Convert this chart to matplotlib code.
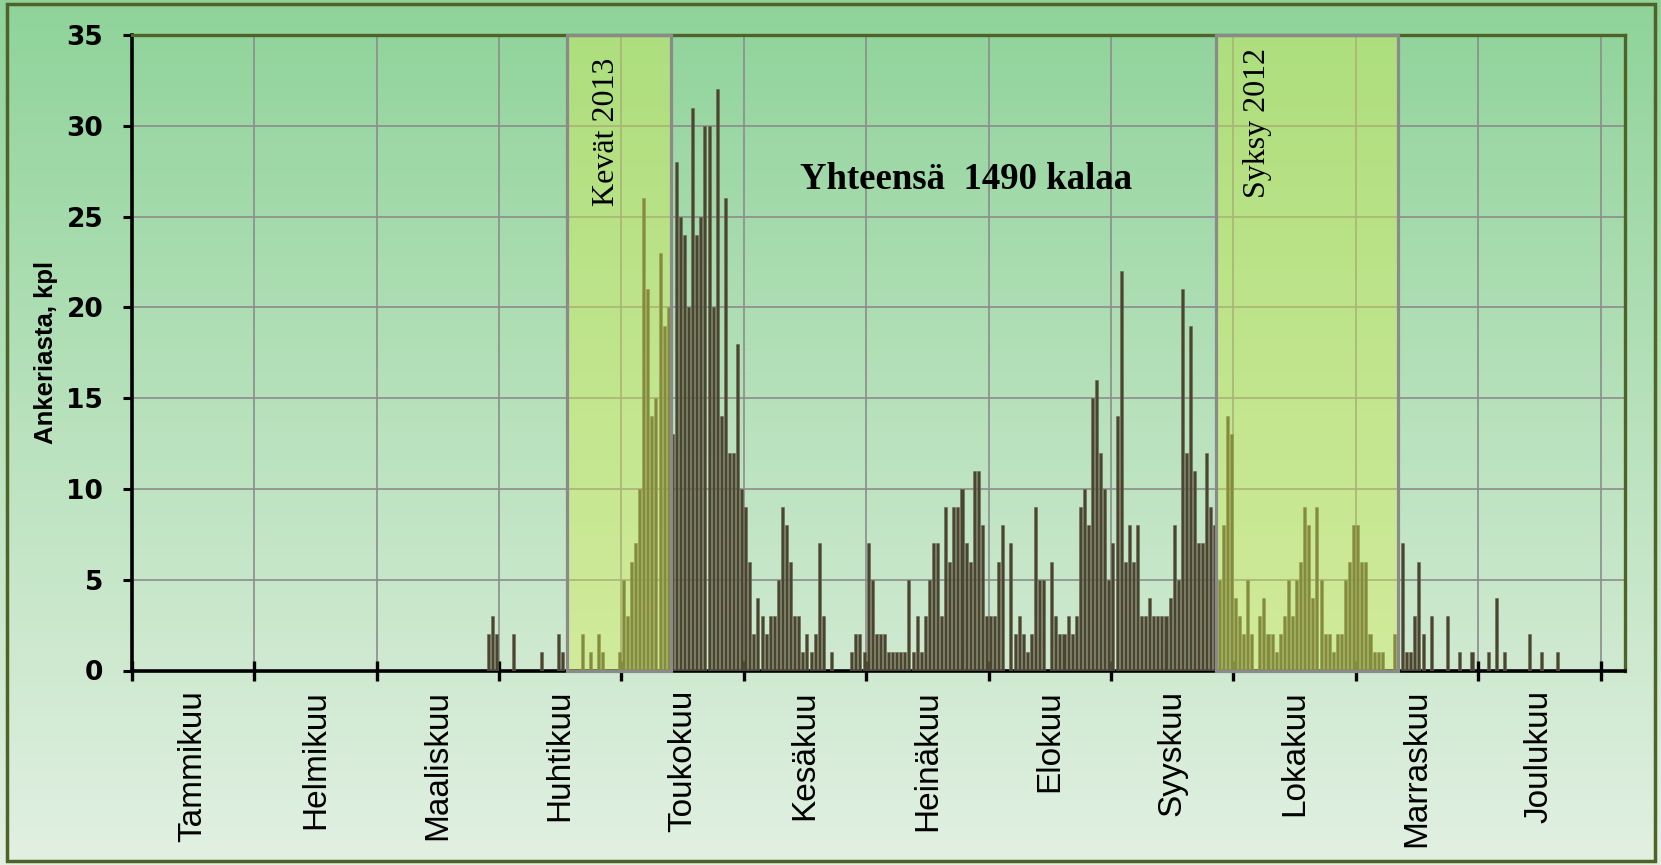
import numpy as np
import matplotlib
matplotlib.use('Agg')
import matplotlib.pyplot as plt
from matplotlib.patches import Rectangle
from matplotlib import font_manager
from matplotlib.colors import LinearSegmentedColormap

# ---------------- data ----------------
months = ['Tammikuu', 'Helmikuu', 'Maaliskuu', 'Huhtikuu', 'Toukokuu', 'Kesäkuu',
          'Heinäkuu', 'Elokuu', 'Syyskuu', 'Lokakuu', 'Marraskuu', 'Joulukuu']
n_days = 366
tick_step = 30
y_ticks = [0, 5, 10, 15, 20, 25, 30, 35]

early_days = [87, 88, 89, 93, 100, 104, 105, 110, 112, 114, 115, 119]
early_counts = [2, 3, 2, 2, 1, 2, 1, 2, 1, 2, 1, 1]

main_start = 120
counts_spring = [5, 3, 6, 7, 10, 26, 21, 14, 15, 23, 19, 20, 13, 28, 25, 24, 20, 31, 24, 25,
                 30, 30, 20, 32, 14, 26, 12, 12, 18, 10, 9, 6, 2, 4, 3]
counts_june = [2, 3, 3, 5, 9, 8, 6, 3, 3, 1, 2, 1, 2, 7, 3, 0, 1, 0, 0, 0, 0, 1, 2, 2, 1, 7, 5]
counts_july = [2, 2, 2, 1, 1, 1, 1, 1, 5, 1, 3, 1, 3, 5, 7, 7, 3, 9, 6, 9, 9, 10, 7, 6, 11, 11,
               8, 3, 3, 3, 6]
counts_aug = [8, 0, 7, 2, 3, 2, 1, 2, 9, 5, 5, 0, 6, 3, 2, 2, 3, 2, 3, 9, 10, 8, 15, 16, 12, 10,
              5, 7, 14, 22, 6, 8]
counts_sep = [6, 8, 3, 3, 4, 3, 3, 3, 3, 4, 8, 5, 21, 12, 19, 11, 7, 7, 12, 9, 8, 5]
counts_autumn = [8, 14, 13, 4, 3, 2, 5, 2, 0, 3, 4, 2, 2, 1, 2, 3, 5, 3, 5, 6, 9, 8, 4, 9, 5, 2,
                 2, 1, 2, 2, 5, 6, 8, 8, 6, 6, 2, 1, 1, 1, 0, 0, 2, 0]
counts_late = [7, 1, 1, 3, 6, 2, 0, 3, 0, 0, 0, 3, 0, 0, 1, 0, 0, 1, 0, 0, 0, 1, 0, 4, 0, 1, 0,
               0, 0, 0, 0, 2, 0, 0, 1, 0, 0, 0, 1]

spring_span = (106.6, 132.3)   # Kevät 2013 highlight (day units)
autumn_span = (265.8, 310.4)   # Syksy 2012 highlight

# ---------------- assemble ----------------
counts = np.zeros(n_days)
counts[early_days] = early_counts
main = counts_spring + counts_june + counts_july + counts_aug + counts_sep + counts_autumn + counts_late
counts[main_start:main_start + len(main)] = main
days = np.arange(n_days)

names = {f.name for f in font_manager.fontManager.ttflist}
if 'Liberation Sans Narrow' in names:
    month_font, month_size = 'Liberation Sans Narrow', 27.5
else:
    month_font, month_size = 'Liberation Sans', 24

W, H = 1661, 865
fig = plt.figure(figsize=(W / 100, H / 100), dpi=100)

# background gradient
bg = fig.add_axes([0, 0, 1, 1], zorder=-10)
cmap = LinearSegmentedColormap.from_list('g', ['#8fd39a', '#b9e2bd', '#e2f0e2'])
grad = np.linspace(0, 1, 256).reshape(-1, 1)
bg.imshow(grad, aspect='auto', cmap=cmap, extent=[0, 1, 0, 1], origin='upper')
bg.set_axis_off()
fig.patches.append(Rectangle((7 / W, 4 / H), (1655 - 7) / W, (861 - 4) / H,
                             transform=fig.transFigure, fill=False,
                             edgecolor='#4f6228', lw=2.5, zorder=5))

left, right, top, bottom = 131.7, 1625, 35, 670.5
ax = fig.add_axes([left / W, 1 - bottom / H, (right - left) / W, (bottom - top) / H])
ax.set_facecolor('none')
ax.set_xlim(0, n_days)
ax.set_ylim(0, 35)

ax.bar(days + 0.5, counts, width=0.74, color='#4a4530', zorder=3,
       edgecolor='#6d6850', linewidth=0.4)

ax.set_axisbelow(True)
ax.set_yticks(y_ticks)
ax.set_xticks(np.arange(0, 361, tick_step))
ax.set_xticklabels([])
ax.set_xticks(np.arange(tick_step / 2, 360, tick_step), minor=True)
ax.set_xticklabels(months, minor=True, rotation=90, fontfamily=month_font,
                   fontsize=month_size, va='top', ha='center')
ax.grid(True, which='major', color='#8c8c8c', lw=1.2, zorder=1)
ax.tick_params(axis='x', which='major', direction='inout', length=14, width=2.4, color='black')
ax.tick_params(axis='x', which='minor', length=0, pad=14)
ax.tick_params(axis='y', direction='out', length=6.5, width=2.2, pad=14, labelsize=19)
for lab in ax.get_yticklabels():
    lab.set_fontweight('heavy')
    lab.set_fontfamily('DejaVu Sans')

for s in ['left', 'bottom']:
    ax.spines[s].set_color('black')
    ax.spines[s].set_linewidth(2.6)
for s in ['top', 'right']:
    ax.spines[s].set_color('#4f6228')
    ax.spines[s].set_linewidth(2.4)

for (a, b) in (spring_span, autumn_span):
    ax.add_patch(Rectangle((a, 0), b - a, 35, facecolor=(0.83, 0.93, 0.32, 0.42),
                           edgecolor='#8a8a8a', lw=2.3, zorder=4, clip_on=False))

ax.set_ylabel('Ankeriasta, kpl', fontfamily='Liberation Sans', fontweight='bold', fontsize=18.5)
ax.yaxis.set_label_coords((58 - left) / (right - left), 0.5)

ax.text(0.5587, 0.7583, 'Yhteensä  1490 kalaa', transform=ax.transAxes, ha='center',
        va='baseline', fontfamily='Liberation Serif', fontweight='bold', fontsize=26.5, zorder=6)
ax.text((607 - left) / (right - left), (bottom - 132.3) / (bottom - top), 'Kevät 2013',
        transform=ax.transAxes, rotation=90, ha='center', va='center',
        fontfamily='Liberation Serif', fontsize=23, zorder=6)
ax.text((1257.4 - left) / (right - left), (bottom - 123.4) / (bottom - top), 'Syksy 2012',
        transform=ax.transAxes, rotation=90, ha='center', va='center',
        fontfamily='Liberation Serif', fontsize=23, zorder=6)

fig.savefig('out.png', dpi=100)
